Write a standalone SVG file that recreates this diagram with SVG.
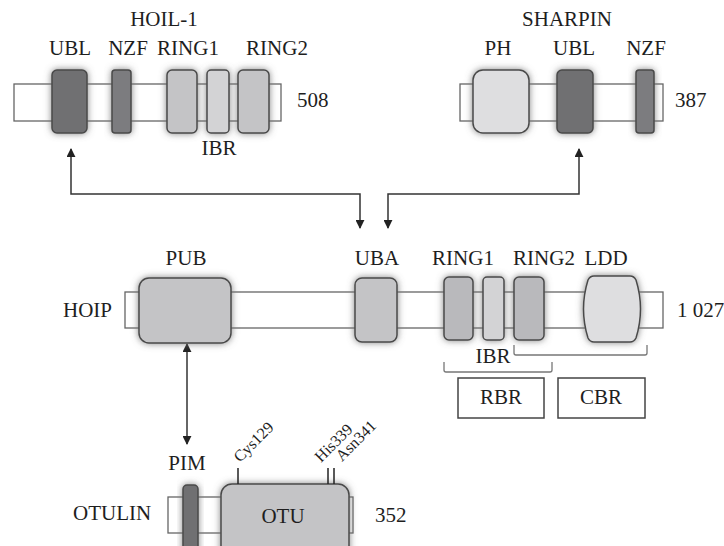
<svg xmlns="http://www.w3.org/2000/svg" width="724" height="546" viewBox="0 0 724 546">
<defs>
<style>
text{font-family:"Liberation Serif","Times New Roman",serif;font-size:21px;fill:#1e1e1e}
.c{text-anchor:middle}
.sm{font-size:16px}
.bar{fill:#fff;stroke:#666;stroke-width:1.3}
.d{stroke:#4a4a4a;stroke-width:1.5;filter:url(#glow)}
.dk{fill:#6f6f72}
.md{fill:#7c7c7f}
.g1{fill:#c4c4c6}
.g2{fill:#b9b9bc}
.lt{fill:#d3d3d5}
.vl{fill:#dedee0}
.ln{fill:none;stroke:#333;stroke-width:1.5}
.br{fill:none;stroke:#777;stroke-width:1.3}
.box{fill:#fff;stroke:#444;stroke-width:1.5}
.tk{stroke:#222;stroke-width:1.5}
</style>
<filter id="glow" x="-40%" y="-40%" width="180%" height="180%">
<feDropShadow dx="0" dy="0" stdDeviation="3.5" flood-color="#777" flood-opacity="0.9"/>
</filter>
<marker id="ah" viewBox="0 0 10 10" refX="9" refY="5" markerWidth="9" markerHeight="9" markerUnits="userSpaceOnUse" orient="auto-start-reverse">
<path d="M0,0 L10,5 L0,10 Z" fill="#222"/>
</marker>
</defs>

<g id="connectors">
<path class="ln" d="M71 149 V194 H360 V228" marker-start="url(#ah)" marker-end="url(#ah)"/>
<path class="ln" d="M579 149 V194 H388 V228" marker-start="url(#ah)" marker-end="url(#ah)"/>
<path class="ln" d="M187 344 V444" marker-start="url(#ah)" marker-end="url(#ah)"/>
</g>

<g id="hoil1">
<text class="c" x="164" y="26">HOIL-1</text>
<rect class="bar" x="14" y="84" width="267" height="37"/>
<rect class="d dk" x="52" y="70" width="35" height="63" rx="5"/>
<rect class="d md" x="112" y="70" width="19" height="63" rx="3"/>
<rect class="d g1" x="167" y="70" width="30" height="63" rx="5"/>
<rect class="d lt" x="207" y="70" width="22" height="63" rx="4"/>
<rect class="d g1" x="238" y="70" width="31" height="63" rx="5"/>
<text class="c" x="70" y="55">UBL</text>
<text class="c" x="128" y="55">NZF</text>
<text class="c" x="188" y="55">RING1</text>
<text class="c" x="277" y="55">RING2</text>
<text class="c" x="219" y="155">IBR</text>
<text x="297" y="107">508</text>
</g>

<g id="sharpin">
<text class="c" x="567" y="26">SHARPIN</text>
<rect class="bar" x="460" y="84" width="203" height="37"/>
<rect class="d vl" x="473" y="70" width="56" height="63" rx="10"/>
<rect class="d dk" x="557" y="70" width="36" height="63" rx="5"/>
<rect class="d md" x="636" y="70" width="18" height="63" rx="3"/>
<text class="c" x="498" y="55">PH</text>
<text class="c" x="574" y="55">UBL</text>
<text class="c" x="646" y="55">NZF</text>
<text x="675" y="107">387</text>
</g>

<g id="hoip">
<text x="63" y="317">HOIP</text>
<rect class="bar" x="125" y="292" width="538" height="36"/>
<rect class="d g1" x="139" y="278" width="92" height="65" rx="10"/>
<rect class="d g1" x="355" y="278" width="42" height="64" rx="7"/>
<rect class="d g2" x="444" y="277" width="29" height="63" rx="5"/>
<rect class="d lt" x="483" y="277" width="21" height="63" rx="4"/>
<rect class="d g2" x="514" y="277" width="30" height="63" rx="5"/>
<path class="d vl" d="M594 276 H630 Q634 276 636 280 Q645 309 636 338 Q634 342 630 342 H594 Q590 342 588 338 Q579 309 588 280 Q590 276 594 276 Z"/>
<text class="c" x="186" y="265">PUB</text>
<text class="c" x="377" y="265">UBA</text>
<text class="c" x="463" y="265">RING1</text>
<text class="c" x="544" y="265">RING2</text>
<text class="c" x="606" y="265">LDD</text>
<text x="677" y="317">1 027</text>
</g>

<g id="rbr-cbr">
<path class="br" d="M514 345 V353 Q514 355 516 355 H645 Q647 355 647 353 V345"/>
<path class="br" d="M444 362 V370 Q444 372 446 372 H550 Q552 372 552 370 V362"/>
<text class="c" x="493" y="363">IBR</text>
<rect class="box" x="458" y="378" width="86" height="40"/>
<rect class="box" x="558" y="378" width="87" height="40"/>
<text class="c" x="501" y="404">RBR</text>
<text class="c" x="601" y="404">CBR</text>
</g>

<g id="otulin">
<text x="73" y="520">OTULIN</text>
<rect class="bar" x="168" y="497" width="185" height="36"/>
<rect class="d dk" x="183" y="485" width="15" height="80" rx="4"/>
<rect class="d g1" x="221" y="484" width="128" height="80" rx="11"/>
<line class="tk" x1="238" y1="468" x2="238" y2="484"/>
<line class="tk" x1="328" y1="468" x2="328" y2="484"/>
<line class="tk" x1="334" y1="468" x2="334" y2="484"/>
<text class="c" x="187" y="470">PIM</text>
<text class="c" x="283" y="523">OTU</text>
<text x="375" y="522">352</text>
<text class="sm" transform="translate(240,463) rotate(-45)">Cys129</text>
<text class="sm" transform="translate(321,463) rotate(-45)">His339</text>
<text class="sm" transform="translate(342,462) rotate(-45)">Asn341</text>
</g>
</svg>
